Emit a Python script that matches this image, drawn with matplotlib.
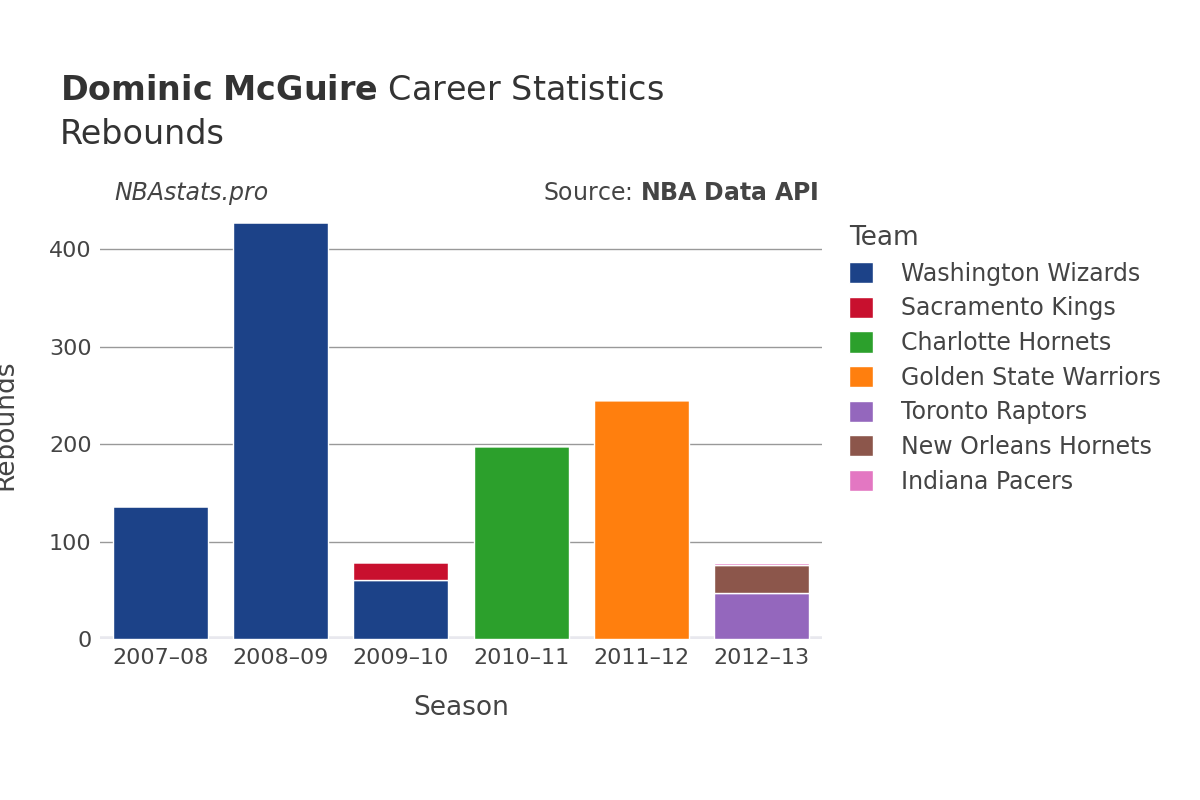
import matplotlib.pyplot as plt
import numpy as np

seasons = ["2007–08", "2008–09", "2009–10", "2010–11", "2011–12", "2012–13"]
teams = ["Washington Wizards", "Sacramento Kings", "Charlotte Hornets",
         "Golden State Warriors", "Toronto Raptors", "New Orleans Hornets", "Indiana Pacers"]
colors = ["#1c4288", "#c8102e", "#2ca02c", "#ff7f0e", "#9467bd", "#8c564b", "#e377c2"]
values = {
    "Washington Wizards":    [137, 428, 61, 0, 0, 0],
    "Sacramento Kings":      [0, 0, 18, 0, 0, 0],
    "Charlotte Hornets":     [0, 0, 0, 198, 0, 0],
    "Golden State Warriors": [0, 0, 0, 0, 245, 0],
    "Toronto Raptors":       [0, 0, 0, 0, 0, 47],
    "New Orleans Hornets":   [0, 0, 0, 0, 0, 29],
    "Indiana Pacers":        [0, 0, 0, 0, 0, 2],
}

fig = plt.figure(figsize=(12, 8), dpi=100)
ax = fig.add_axes([0.0833, 0.201, 0.6017, 0.536])
x = np.arange(len(seasons))
bottom = np.zeros(len(seasons))
for t, c in zip(teams, colors):
    v = np.array(values[t], dtype=float)
    ax.bar(x, v, bottom=bottom, width=0.79, color=c, edgecolor="white", linewidth=1, label=t, zorder=3)
    bottom += v

ax.set_xlim(-0.5, 5.5)
ax.set_ylim(0, 440)
ax.set_yticks([0, 100, 200, 300, 400])
ax.set_xticks(x)
ax.set_xticklabels(seasons)
ax.tick_params(axis="both", labelsize=16, colors="#444444", length=0, pad=6)
ax.grid(axis="y", color="#999999", linewidth=1, zorder=0)
for s in ax.spines.values():
    s.set_visible(False)
ax.axhline(0, color="#e8e8ee", linewidth=4, zorder=2)
ax.set_xlabel("Season", fontsize=19, color="#444444", labelpad=20)
ax.set_ylabel("Rebounds", fontsize=19, color="#444444", labelpad=22)

fig.text(0.05, 0.875, r"$\bf{Dominic\ McGuire}$ Career Statistics", fontsize=24, color="#333333")
fig.text(0.05, 0.82, "Rebounds", fontsize=24, color="#333333")
fig.text(0.095, 0.75, "NBAstats.pro", fontsize=17, style="italic", color="#444444")
fig.text(0.682, 0.75, r"Source: $\bf{NBA\ Data\ API}$", fontsize=17, color="#444444", ha="right")

leg = fig.legend(loc="upper left", bbox_to_anchor=(0.69, 0.745), frameon=False, fontsize=17,
                 title="Team", title_fontsize=19, labelcolor="#444444", handlelength=1.0,
                 handleheight=1.0, labelspacing=0.45, handletextpad=1.2, alignment="left")
leg.get_title().set_color("#444444")
fig.savefig("out.png")
